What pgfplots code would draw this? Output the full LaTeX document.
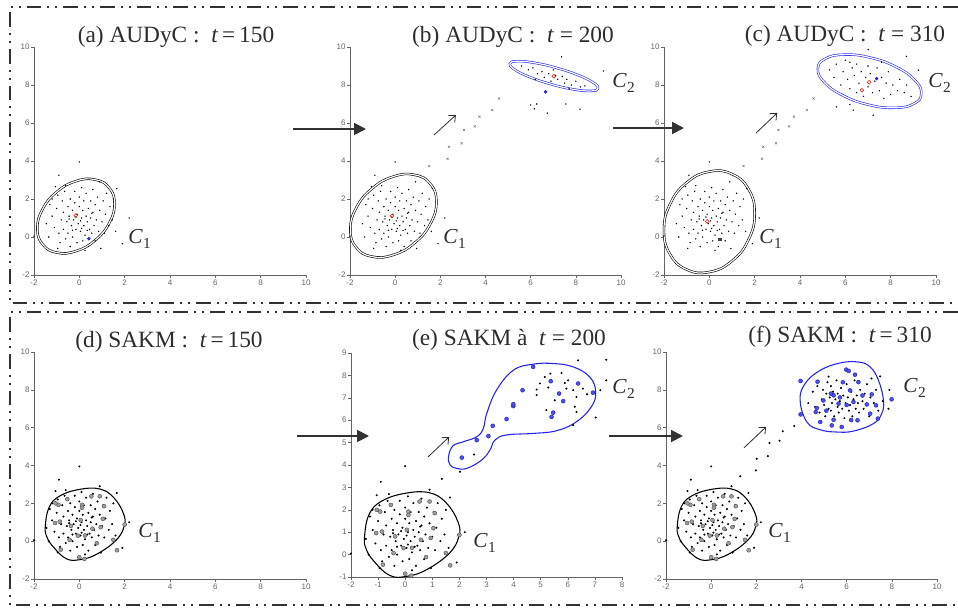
\documentclass[border=0pt]{standalone}
\usepackage{fontspec}
\setmainfont{Liberation Serif}
\newfontfamily\tickfont{Liberation Sans}
\usepackage{pgfplots}
\pgfplotsset{compat=1.18}
\usepackage{pgfplotstable}
\usetikzlibrary{arrows.meta}

\definecolor{mblue}{RGB}{35,35,235}
\definecolor{framec}{RGB}{50,50,50}
\definecolor{axc}{RGB}{100,100,100}
\definecolor{txtc}{RGB}{45,45,45}

% ---------------- data ----------------
\pgfplotstableread{
x y
-1.3 1.7
-1.2 1.1
-1.1 0.5
-1.0 1.5
-0.95 2.2
-0.9 0.2
-0.85 -0.3
-0.8 0.9
-0.75 1.9
-0.7 0.4
-0.7 1.3
-0.65 2.4
-0.6 -0.1
-0.55 0.8
-0.5 1.6
-0.5 0.2
-0.45 1.1
-0.4 2.0
-0.4 -0.5
-0.35 0.6
-0.3 1.4
-0.3 0.0
-0.25 0.9
-0.2 1.8
-0.2 2.4
-0.15 0.4
-0.1 1.2
-0.1 -0.3
-0.05 0.7
0.0 1.6
0.0 2.1
0.05 0.3
0.1 1.0
0.1 2.6
0.15 -0.2
0.15 1.4
0.2 0.6
0.2 1.9
0.25 0.1
0.3 1.1
0.3 2.3
0.35 0.8
0.4 -0.5
0.4 1.5
0.45 0.4
0.5 1.9
0.5 1.0
0.55 0.2
0.6 1.3
0.6 2.5
0.65 0.6
0.7 -0.2
0.7 1.7
0.75 0.9
0.8 2.1
0.85 0.3
0.9 1.4
0.95 -0.6
1.0 0.8
1.05 1.9
1.1 0.2
1.15 1.2
1.2 2.3
1.3 0.6
1.35 1.6
1.45 0.9
1.5 2.0
1.6 0.3
-1.45 0.7
-1.35 0.0
-1.2 2.0
-0.6 2.7
0.25 -0.7
0.9 2.9
-0.95 -0.6
-0.3 0.35
0.1 0.45
0.05 0.85
-0.15 1.05
0.35 0.35
-0.45 0.95
0.55 1.25
0.0 3.95
-0.9 3.25
-1.05 2.65
1.65 2.55
-2.0 0.05
1.9 -0.35
2.2 1.0
}\tCone

\pgfplotstableread{
x y
-0.92 1.92
-0.53 2.22
0.53 2.37
0.90 2.37
0.12 1.92
0.12 1.77
1.09 1.85
-0.86 1.03
-1.07 0.96
0.06 1.11
-0.37 0.81
1.04 1.18
0.58 0.66
0.94 0.74
-0.06 0.29
-0.43 0.07
0.77 -0.11
-0.82 -0.45
2.00 0.88
1.50 0.07
1.66 -0.48
0.00 -0.85
0.22 -0.94
-1.05 2.0
0.25 0.3
}\tConeBig

\pgfplotstableread{
x y
1.51 3.74
2.32 4.12
2.38 4.75
2.94 4.93
3.05 5.63
3.52 5.82
3.73 6.34
4.30 6.68
4.60 7.29
}\tTransA

\pgfplotstableread{
x y
1.35 3.38
2.02 3.70
2.54 4.47
}\tTransE

\pgfplotstableread{
x y
1.29 3.43
1.98 3.74
2.02 4.36
2.51 4.50
2.58 5.19
3.03 5.31
3.17 5.81
3.68 6.09
}\tTransF

\pgfplotstableread{
x y
5.6 9.0
5.9 8.8
6.1 8.9
6.3 8.6
6.5 8.7
6.6 8.4
6.8 8.6
6.9 8.2
7.1 8.5
7.2 8.3
7.4 8.45
7.5 8.1
7.6 8.3
7.8 8.0
8.0 8.2
8.2 7.9
8.4 7.95
6.2 8.3
7.0 8.8
7.7 7.8
}\tCtwoB

\pgfplotstableread{
x y
6.27 7.0
6.16 6.75
6.74 6.52
8.18 6.73
7.56 7.0
7.37 9.48
9.22 8.74
6.0 6.95
}\tCtwoBout

\pgfplotstableread{
x y
5.3 8.8
5.5 8.4
5.6 9.1
5.8 8.0
5.9 8.7
6.0 9.3
6.1 8.3
6.2 7.8
6.3 8.9
6.4 8.5
6.5 7.6
6.5 9.1
6.6 8.1
6.7 8.7
6.8 7.4
6.9 8.4
7.0 9.0
7.0 7.9
7.1 8.6
7.2 7.6
7.3 8.2
7.4 8.9
7.5 7.7
7.6 8.4
7.7 7.3
7.8 8.1
7.9 8.7
8.0 7.5
8.1 8.0
8.3 7.7
8.4 8.3
8.6 7.6
8.7 8.0
8.9 7.4
6.2 9.2
7.6 9.2
}\tCtwoC

\pgfplotstableread{
x y
7.01 9.86
8.70 9.51
9.22 8.78
7.23 6.41
5.61 6.85
6.35 6.68
6.20 6.97
}\tCtwoCout

\pgfplotstableread{
x y
2.09 4.33
2.64 5.11
3.07 5.29
3.23 5.75
3.74 6.05
3.99 6.63
3.99 6.72
4.33 7.34
4.72 8.38
5.37 7.74
5.68 7.19
5.83 6.85
5.46 6.34
5.40 6.15
6.38 7.64
6.93 7.23
}\tCtwoEbig

\pgfplotstableread{
x y
4.85 7.37
4.97 7.64
4.85 7.12
5.15 7.93
5.36 8.08
5.28 7.46
5.52 6.89
5.21 6.45
5.77 8.11
5.89 7.66
5.95 7.41
6.01 7.78
6.20 7.34
6.32 7.04
6.26 6.60
6.32 6.37
6.56 7.41
6.71 7.16
6.38 8.67
7.42 8.70
7.42 7.78
7.20 7.34
7.03 6.12
6.20 5.78
}\tCtwoE

\pgfplotstableread{
x y
4.3 7.3
4.5 7.9
4.6 7.1
4.7 8.2
4.8 6.8
4.9 7.5
4.95 8.0
5.0 7.2
5.05 6.6
5.1 7.8
5.15 8.4
5.2 7.0
5.25 7.6
5.3 6.9
5.3 8.2
5.35 7.3
5.4 7.9
5.45 6.6
5.5 7.5
5.55 8.5
5.6 7.1
5.6 7.8
5.65 6.8
5.7 7.4
5.75 8.1
5.8 7.0
5.85 7.7
5.9 6.5
5.95 7.3
6.0 8.3
6.05 7.6
6.1 6.9
6.15 7.2
6.2 7.9
6.25 6.6
6.3 7.5
6.35 8.5
6.4 7.0
6.45 7.7
6.5 7.3
6.55 6.8
6.6 8.0
6.7 7.4
6.75 7.0
6.8 7.8
6.9 7.2
7.0 6.6
7.05 7.6
7.2 7.3
7.3 8.0
7.4 6.9
7.1 8.6
5.2 8.7
6.9 8.3
7.89 8.0
7.85 7.0
7.48 8.71
7.6 7.4
}\tCtwoF

\pgfplotstableread{
x y
3.96 8.47
3.96 6.70
4.71 8.43
4.68 7.04
4.63 6.83
4.83 6.30
5.34 6.12
5.42 6.42
5.78 6.04
5.98 9.07
6.09 9.00
6.37 8.80
6.48 6.39
7.04 6.74
7.11 7.76
7.30 7.18
7.38 6.48
7.99 7.50
6.52 8.41
5.83 8.40
4.97 7.44
5.42 7.71
5.64 7.27
6.30 7.36
6.15 7.97
6.89 7.23
5.30 7.80
5.70 7.60
6.00 7.20
6.70 7.70
5.10 6.90
6.20 6.40
}\tCtwoFbig

% contour of C1 for SAKM
\pgfplotstableread{
x y
-1.50 0.80
-1.33 1.80
-0.85 2.40
0.02 2.74
0.90 2.76
1.52 2.30
1.95 1.45
1.98 0.80
1.62 0.05
0.78 -0.68
0.05 -0.97
-0.57 -0.93
-1.15 -0.30
-1.44 0.25
}\tContCone

\pgfplotstableread{
x y
1.60 4.37
1.76 4.85
2.15 5.04
2.64 5.26
2.88 5.63
3.01 6.30
3.37 7.34
3.99 8.23
4.72 8.50
5.46 8.53
6.20 8.38
6.81 7.93
7.03 7.26
6.87 6.60
6.32 5.93
5.58 5.53
4.72 5.41
3.74 5.34
3.31 5.11
3.13 4.67
2.82 4.22
2.27 3.85
1.90 3.85
1.66 4.00
}\tContCtwoE

\pgfplotstableread{
x y
3.94 7.44
4.16 8.33
4.83 9.03
5.71 9.42
6.52 9.47
7.04 9.21
7.41 8.50
7.63 7.44
7.55 6.74
7.18 6.21
6.30 5.82
5.56 5.77
4.83 5.89
4.24 6.30
}\tContCtwoF

% AUDyC ellipses (points read on the contours)
\pgfplotstableread{
x y
1.55 1.747
1.322 2.580
0.70 3.017
-0.15 2.939
-1.00 2.369
-1.622 1.460
-1.85 0.453
-1.622 -0.380
-1.00 -0.817
-0.15 -0.739
0.70 -0.169
1.322 0.740
}\tEllA

\pgfplotstableread{
x y
1.824 1.845
1.569 2.778
0.872 3.267
-0.08 3.180
-1.032 2.541
-1.729 1.523
-1.984 0.395
-1.729 -0.538
-1.032 -1.027
-0.08 -0.940
0.872 -0.301
1.569 0.717
}\tEllB

\pgfplotstableread{
x y
8.98 7.81
8.794 8.108
8.135 8.504
7.18 8.89
6.185 9.164
5.416 9.252
5.08 9.13
5.266 8.832
5.925 8.436
6.88 8.05
7.875 7.776
8.644 7.688
}\tEllBtwo

\pgfplotstableread{
x y
2.0 1.25
1.732 2.51
1.0 3.311
0.0 3.44
-1.0 2.861
-1.732 1.73
-2.0 0.35
-1.732 -0.91
-1.0 -1.711
0.0 -1.84
1.0 -1.261
1.732 -0.13
}\tEllC

\pgfplotstableread{
x y
9.35 7.55
9.065 8.257
8.245 8.949
7.11 9.44
5.965 9.599
5.115 9.383
4.79 8.85
5.075 8.143
5.895 7.451
7.03 6.96
8.175 6.801
9.025 7.017
}\tEllCtwo

\pgfplotsset{
  panel/.style={
    scale only axis, axis lines*=left, clip=false,
    axis line style={draw=axc, line width=0.5pt, -},
    every tick/.style={draw=axc, line width=0.4pt},
    tick align=outside, major tick length=2.2pt,
    ticklabel style={font=\tickfont\fontsize{6}{6}\selectfont, text=axc, inner sep=1pt},
    /pgf/number format/assume math mode=true,
    xmin=-2, xmax=10, ymin=-2, ymax=10,
    xtick={-2,0,...,10}, ytick={-2,0,...,10},
  },
  ptiny/.style={only marks, mark=*, mark size=0.3pt, draw=none, fill=gray!65},
  psm/.style={only marks, mark=*, mark size=0.55pt, draw=none, fill=black},
  pbig/.style={only marks, mark=*, mark size=1.5pt, draw=gray!60!black, fill=gray!75, line width=0.3pt},
  pbigb/.style={only marks, mark=*, mark size=1.5pt, draw=mblue!80!black, fill=mblue!80, line width=0.3pt},
  pdbl/.style={double=white, double distance=0.9pt, line width=0.45pt, smooth cycle, tension=0.8},
  pcen/.style={only marks, mark=o, mark size=1.4pt, red, line width=0.4pt},
}
\tikzset{diag/.style={draw=txtc, line width=0.6pt, -{Straight Barb[length=4pt,width=7pt]}}}

\newcommand{\Clab}[1]{\textit{C}\kern0.3pt\raisebox{-4pt}{\fontsize{11.5}{11.5}\selectfont #1}}

\begin{document}
\begin{tikzpicture}
\path[use as bounding box] (0,0) rectangle (718.5pt,-456pt);

% ---------- (a) ----------
\begin{axis}[panel, at={(25.5pt,-206.25pt)}, anchor=south west, width=204pt, height=171pt]
\addplot[ptiny] table {\tCone};
\addplot[black, pdbl] table {\tEllA};
\addplot[pcen] coordinates {(-0.16,1.13)};
\addplot[only marks, mark=*, mark size=1.1pt, mblue] coordinates {(0.42,-0.09)};
\end{axis}

% ---------- (b) ----------
\begin{axis}[panel, at={(262.5pt,-206.25pt)}, anchor=south west, width=203.25pt, height=171pt]
\addplot[ptiny] table {\tCone};
\addplot[only marks, mark=x, mark size=1.1pt, gray, line width=0.4pt] table {\tTransA};
\addplot[only marks, mark=*, mark size=0.3pt, draw=none, fill=mblue!60] table {\tCtwoB};
\addplot[ptiny] table {\tCtwoBout};
\addplot[black, pdbl] table {\tEllB};
\addplot[mblue, pdbl] table {\tEllBtwo};
\addplot[pcen] coordinates {(-0.14,1.11) (7.03,8.46)};
\addplot[only marks, mark=*, mark size=1.1pt, mblue] coordinates {(6.66,7.64)};
\draw[diag] (axis cs:1.72,5.37) -- (axis cs:2.69,6.42);
\end{axis}

% ---------- (c) ----------
\begin{axis}[panel, at={(498pt,-206.25pt)}, anchor=south west, width=204pt, height=171pt]
\addplot[ptiny] table {\tCone};
\addplot[only marks, mark=x, mark size=1.1pt, gray, line width=0.4pt] table {\tTransA};
\addplot[only marks, mark=*, mark size=0.3pt, draw=none, fill=mblue!60] table {\tCtwoC};
\addplot[ptiny] table {\tCtwoCout};
\addplot[black, pdbl] table {\tEllC};
\addplot[mblue, pdbl] table {\tEllCtwo};
\addplot[pcen] coordinates {(-0.09,0.82) (7.05,8.15) (6.73,7.73)};
\addplot[only marks, mark=square*, mark size=0.8pt, gray!50!black] coordinates {(0.46,-0.10)};
\addplot[only marks, mark=*, mark size=1.1pt, mblue] coordinates {(7.38,8.34)};
\draw[diag] (axis cs:2.06,5.47) -- (axis cs:2.99,6.53);
\end{axis}

% ---------- (d) ----------
\begin{axis}[panel, at={(25.5pt,-434.25pt)}, anchor=south west, width=204pt, height=170.25pt]
\addplot[psm] table {\tCone};
\addplot[pbig] table {\tConeBig};
\addplot[black, line width=0.8pt, smooth cycle, tension=0.7] table {\tContCone};
\end{axis}

% ---------- (e) ----------
\begin{axis}[panel, at={(263.25pt,-432.75pt)}, anchor=south west, width=203.25pt, height=168pt,
  xmin=-2, xmax=8, ymin=-1, ymax=9, xtick={-2,-1,...,8}, ytick={-1,0,...,9}]
\addplot[psm] table {\tCone};
\addplot[pbig] table {\tConeBig};
\addplot[psm] table {\tTransE};
\addplot[psm] table {\tCtwoE};
\addplot[pbigb] table {\tCtwoEbig};
\addplot[black, line width=0.8pt, smooth cycle, tension=0.7] table {\tContCone};
\addplot[mblue, line width=0.8pt, smooth cycle, tension=0.7] table {\tContCtwoE};
\draw[diag] (axis cs:0.84,4.36) -- (axis cs:1.62,5.25);
\end{axis}

% ---------- (f) ----------
\begin{axis}[panel, at={(499.5pt,-434.25pt)}, anchor=south west, width=203.25pt, height=170.25pt]
\addplot[psm] table {\tCone};
\addplot[pbig] table {\tConeBig};
\addplot[psm] table {\tTransF};
\addplot[psm] table {\tCtwoF};
\addplot[pbigb] table {\tCtwoFbig};
\addplot[black, line width=0.8pt, smooth cycle, tension=0.7] table {\tContCone};
\addplot[mblue, line width=0.8pt, smooth cycle, tension=0.7] table {\tContCtwoF};
\draw[diag] (axis cs:1.45,4.93) -- (axis cs:2.43,6.04);
\end{axis}

% ---------- annotations in pixel units ----------
\begin{scope}[x=0.75pt, y=-0.75pt]
\tikzset{fr/.style={draw=framec, line width=1.5pt,
  dash pattern=on 11pt off 4.5pt on 1.5pt off 4.5pt on 1.5pt off 4.5pt}}
\draw[fr] (958,7) -- (10,7) -- (10,303) -- (958,303);
\draw[fr] (958,312) -- (10,312) -- (10,605) -- (958,605);

\tikzset{harr/.style={draw=framec, line width=1.4pt, -{Triangle[length=9pt,width=9pt]}}}
\draw[harr] (293,129) -- (366,129);
\draw[harr] (613,128) -- (684,128);
\draw[harr] (297,436) -- (369,436);
\draw[harr] (609,436) -- (683,436);

\tikzset{ttl/.style={anchor=base, inner sep=0pt, text=txtc, font=\fontsize{17.5}{17.5}\selectfont}}
\node[ttl] at (176,42) {(a) AUDyC :\ \ \textit{t}\,=\,150};
\node[ttl] at (513,42) {(b) AUDyC :\ \ \textit{t}\ =\ 200};
\node[ttl] at (845,41) {(c) AUDyC :\ \ \textit{t}\ =\ 310};
\node[ttl] at (169,347) {(d) SAKM :\ \ \textit{t}\,=\,150};
\node[ttl] at (509,345) {(e) SAKM à\ \ \textit{t}\ =\ 200};
\node[ttl] at (840,342) {(f) SAKM :\ \ \textit{t}\,=\,310};

\tikzset{cl/.style={anchor=base west, inner sep=0pt, text=txtc, font=\fontsize{16}{16}\selectfont}}
\node[cl] at (128,243) {\Clab{1}};
\node[cl] at (443,243) {\Clab{1}};
\node[cl] at (612,87) {\Clab{2}};
\node[cl] at (759,243) {\Clab{1}};
\node[cl] at (928,87) {\Clab{2}};
\node[cl] at (138,537) {\Clab{1}};
\node[cl] at (473,547) {\Clab{1}};
\node[cl] at (612,393) {\Clab{2}};
\node[cl] at (768,537) {\Clab{1}};
\node[cl] at (903,392) {\Clab{2}};
\end{scope}
\end{tikzpicture}
\end{document}
